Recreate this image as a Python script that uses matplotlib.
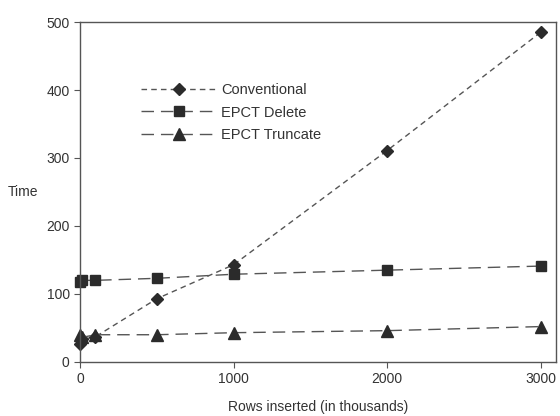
import matplotlib
matplotlib.use("Agg")
import matplotlib.pyplot as plt

rows = [1, 10, 100, 500, 1000, 2000, 3000]
conventional = [27, 33, 37, 93, 143, 311, 485]
epct_delete = [118, 120, 120, 123, 129, 135, 141]
epct_truncate = [40, 36, 40, 40, 43, 46, 52]

plt.rcParams['font.family'] = ['Liberation Sans', 'DejaVu Sans']

fig = plt.figure(figsize=(5.6, 4.16), dpi=100)
ax = fig.add_axes([0.143, 0.130, 0.850, 0.817])

lc = '#555555'
mc = '#2b2b2b'
ax.plot(rows, conventional, linestyle=(0, (4, 3)), color=lc, lw=1.0, clip_on=False,
        marker='D', markersize=6, markerfacecolor=mc, markeredgecolor=mc, label='Conventional')
ax.plot(rows, epct_delete, linestyle=(0, (9, 5)), color=lc, lw=1.0, clip_on=False,
        marker='s', markersize=7, markerfacecolor=mc, markeredgecolor=mc, label='EPCT Delete')
ax.plot(rows, epct_truncate, linestyle=(0, (9, 5)), color=lc, lw=1.0, clip_on=False,
        marker='^', markersize=8, markerfacecolor=mc, markeredgecolor=mc, label='EPCT Truncate')

ax.set_xlim(0, 3100)
ax.set_ylim(0, 500)
ax.set_xticks([0, 1000, 2000, 3000])
ax.set_yticks([0, 100, 200, 300, 400, 500])
for s in ax.spines.values():
    s.set_color('#555555')
    s.set_linewidth(1.0)
ax.tick_params(axis='both', direction='out', length=4, color='#555555',
               labelsize=10, labelcolor='#333333', top=False, right=False)
ax.set_xlabel('Rows inserted (in thousands)', fontsize=10, color='#333333', labelpad=10)
ax.set_ylabel('Time', fontsize=10, color='#333333', rotation=0, va='center', ha='center')
ax.yaxis.set_label_coords(-0.12, 0.50)

leg = ax.legend(loc='upper left', bbox_to_anchor=(0.10, 0.86), frameon=False,
                fontsize=10.5, handlelength=5.2, labelspacing=0.6, handletextpad=0.3)
for t in leg.get_texts():
    t.set_color('#333333')

fig.savefig('out.png', dpi=100)
